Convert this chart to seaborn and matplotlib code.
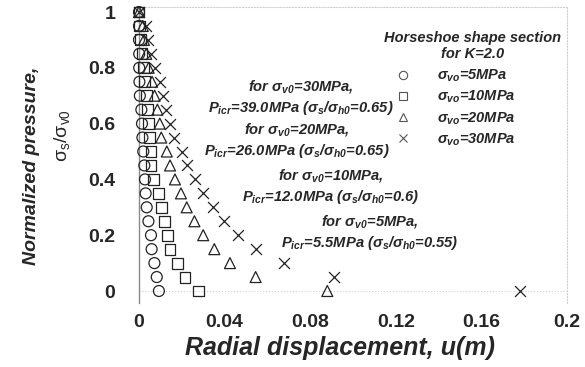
import matplotlib
matplotlib.use("Agg")
import matplotlib.pyplot as plt
from matplotlib.lines import Line2D
import seaborn as sns
import pandas as pd

# Normalized support pressure levels (sigma_s / sigma_v0)
pressure = [0.0, 0.05, 0.10, 0.15, 0.20, 0.25, 0.30, 0.35, 0.40, 0.45, 0.50,
            0.55, 0.60, 0.65, 0.70, 0.75, 0.80, 0.85, 0.90, 0.95, 1.0]

# Radial displacement u (m) for each in-situ vertical stress
u_5 = [0.0093, 0.0083, 0.0072, 0.0059, 0.0056, 0.0044, 0.0036, 0.0031, 0.0028, 0.0025, 0.0020,
       0.0016, 0.0014, 0.0011, 0.0004, 0.0002, 0.0001, 0.0001, 0.0, 0.0, 0.0]
u_10 = [0.0277, 0.0215, 0.0181, 0.0145, 0.0134, 0.0118, 0.0106, 0.0090, 0.0067, 0.0056, 0.0056,
        0.0048, 0.0045, 0.0039, 0.0034, 0.0027, 0.0019, 0.0014, 0.0006, 0.0003, 0.0]
u_20 = [0.0880, 0.0545, 0.0425, 0.0352, 0.0300, 0.0259, 0.0223, 0.0196, 0.0168, 0.0145, 0.0130,
        0.0104, 0.0097, 0.0086, 0.0073, 0.0061, 0.0045, 0.0034, 0.0023, 0.0018, 0.0]
u_30 = [0.1780, 0.0910, 0.0678, 0.0547, 0.0464, 0.0399, 0.0347, 0.0300, 0.0262, 0.0223, 0.0200,
        0.0164, 0.0143, 0.0128, 0.0112, 0.0097, 0.0073, 0.0057, 0.0042, 0.0034, 0.0]

series_labels = [r"$\sigma_{vo}$=5MPa", r"$\sigma_{vo}$=10MPa",
                 r"$\sigma_{vo}$=20MPa", r"$\sigma_{vo}$=30MPa"]
series_markers = ["o", "s", "^", "x"]

x_ticks = [0, 0.04, 0.08, 0.12, 0.16, 0.2]
x_ticklabels = ["0", "0.04", "0.08", "0.12", "0.16", "0.2"]
y_ticks = [0, 0.2, 0.4, 0.6, 0.8, 1.0]
y_ticklabels = ["0", "0.2", "0.4", "0.6", "0.8", "1"]

annotations = [
    (0.0755, 0.695, "for $\\sigma_{v0}$=30MPa,\n$P_{icr}$=39.0MPa ($\\sigma_s/\\sigma_{h0}$=0.65)"),
    (0.0738, 0.541, "for $\\sigma_{v0}$=20MPa,\n$P_{icr}$=26.0MPa ($\\sigma_s/\\sigma_{h0}$=0.65)"),
    (0.0897, 0.374, "for $\\sigma_{v0}$=10MPa,\n$P_{icr}$=12.0MPa ($\\sigma_s/\\sigma_{h0}$=0.6)"),
    (0.1080, 0.211, "for $\\sigma_{v0}$=5MPa,\n$P_{icr}$=5.5MPa ($\\sigma_s/\\sigma_{h0}$=0.55)"),
]

sns.set_style("white")
plt.rcParams.update({
    "font.family": ["Liberation Sans", "DejaVu Sans"],
    "mathtext.fontset": "custom",
    "mathtext.rm": "Liberation Sans:bold:italic",
    "mathtext.it": "Liberation Sans:bold:italic",
    "mathtext.bf": "Liberation Sans:bold",
    "mathtext.sf": "Liberation Sans",
})

df = pd.DataFrame({
    "u": u_5 + u_10 + u_20 + u_30,
    "p": pressure * 4,
    "series": sum([[lab] * len(pressure) for lab in series_labels], []),
})

fig = plt.figure(figsize=(5.85, 3.67), dpi=100)
ax = fig.add_axes([139 / 585, 1 - 303 / 367, 428 / 585, 296 / 367])

for lab, mk in zip(series_labels, series_markers):
    sub = df[df["series"] == lab]
    if mk == "x":
        sns.scatterplot(data=sub, x="u", y="p", marker=mk, s=62, color="#222222",
                        linewidth=0.9, ax=ax, legend=False, zorder=3, clip_on=False)
    else:
        sns.scatterplot(data=sub, x="u", y="p", marker=mk, s=62, facecolor="none",
                        edgecolor="#222222", linewidth=0.9, ax=ax, legend=False,
                        zorder=3, clip_on=False)

ax.set_xlim(0, 0.2)
ax.set_ylim(-0.043, 1.018)
ax.set_xticks(x_ticks)
ax.set_xticklabels(x_ticklabels, fontsize=14, fontweight="bold")
ax.set_yticks(y_ticks)
ax.set_yticklabels(y_ticklabels, fontsize=14, fontweight="bold")
ax.tick_params(axis="both", length=0, pad=8)
ax.tick_params(axis="y", pad=17)
ax.set_xlabel("")
ax.set_ylabel("")

for side in ["top", "right"]:
    ax.spines[side].set_visible(True)
    ax.spines[side].set_color("#d0d0d0")
    ax.spines[side].set_linestyle(":")
    ax.spines[side].set_linewidth(0.8)
ax.spines["bottom"].set_visible(False)
ax.spines["left"].set_color("#8a8a8a")
ax.spines["left"].set_linewidth(1.0)
ax.axhline(0, color="#d0d0d0", linestyle=":", linewidth=0.8, zorder=1)

for x, y, txt in annotations:
    ax.text(x, y, txt, ha="center", va="center", fontsize=10.6,
            fontweight="bold", fontstyle="italic", linespacing=1.3)

# Legend: title block and marker entries
fig.text(473 / 585, 1 - 46 / 367, "Horseshoe shape section\nfor K=2.0", ha="center",
         va="center", fontsize=10.5, fontweight="bold", fontstyle="italic", linespacing=1.25)
handles = [Line2D([], [], linestyle="none", marker=mk, markersize=6,
                  markerfacecolor="none", markeredgecolor="#555555", markeredgewidth=0.8,
                  color="#555555")
           for mk in series_markers]
ax.legend(handles, series_labels, loc="upper left",
          bbox_to_anchor=(396 / 585, 1 - 68 / 367), bbox_transform=fig.transFigure,
          frameon=False, borderpad=0, borderaxespad=0, handlelength=1.0,
          handletextpad=1.8, labelspacing=0.32,
          prop={"size": 10.5, "weight": "bold", "style": "italic"})

fig.text(340 / 585, 1 - 348 / 367, "Radial displacement, u(m)", ha="center", va="center",
         fontsize=18, fontweight="bold", fontstyle="italic")
fig.text(32 / 585, 1 - 166 / 367, "Normalized pressure,", ha="center", va="center",
         rotation=90, fontsize=14, fontweight="bold", fontstyle="italic")
fig.text(62 / 585, 1 - 135 / 367, r"$\mathsf{σ_s/σ_{v0}}$", ha="center", va="center",
         rotation=90, fontsize=14)

fig.savefig("out.png", dpi=100)
